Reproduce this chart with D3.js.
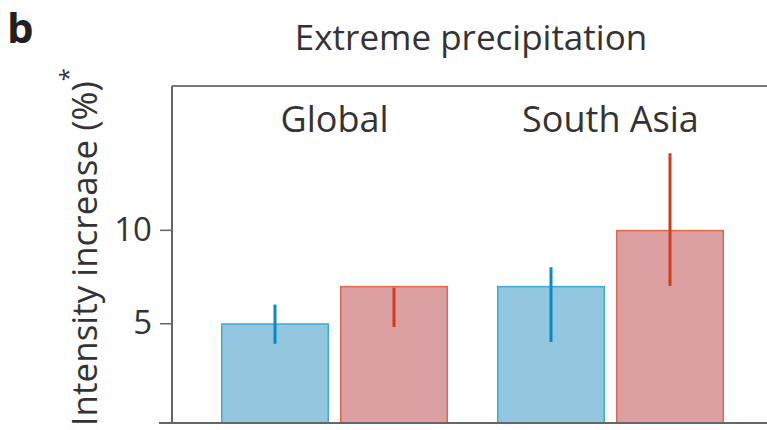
<!DOCTYPE html>
<html>
<head>
<meta charset="utf-8">
<script src="https://cdn.jsdelivr.net/npm/d3@7"></script>
<style>
  body { margin: 0; background: #fff; }
  svg { display: block; font-family: "Open Sans", sans-serif; }
</style>
</head>
<body>
<div class="chart"></div>
<script>
// Extreme precipitation, intensity increase per region

var w = 767, h = 430;

var regions = ['Global', 'South Asia'];
var series = ['present', 'future'];
var presentVals = [5, 7],
	presentLow = [3.9, 4],
	presentHigh = [6, 8];
var futureVals = [7, 10],
	futureLow = [4.8, 7],
	futureHigh = [6.9, 14.1];
var yTicks = [5, 10];

var fills = { present: '#92c7df', future: '#dda0a2' };
var strokes = { present: '#3aaad9', future: '#e0684f' };
var errCols = { present: '#0a88c6', future: '#cf3b1b' };

// flatten into rows the marks can bind to
var rows = [];
regions.forEach(function(r, i) {
	rows.push({ region: r, s: 'present', v: presentVals[i], lo: presentLow[i], hi: presentHigh[i] });
	rows.push({ region: r, s: 'future', v: futureVals[i], lo: futureLow[i], hi: futureHigh[i] });
});

// note: "top" is taken by window.top, so plot edges get their own names
var plotLeft = 172, plotTop = 86, plotBottom = 423;

var x0 = d3.scaleBand().domain(regions).range([221, 724]).paddingInner(0.1775).paddingOuter(0);
var x1 = d3.scaleBand().domain(series).range([0, x0.bandwidth()]).paddingInner(0.0924);
var y = d3.scaleLinear().domain([-0.34, 17.7]).range([plotBottom, plotTop]);

var svg = d3.select('.chart').append('svg')
	.attr('width', w)
	.attr('height', h);

// frame: top line
svg.append('line')
	.attr('x1', plotLeft).attr('x2', w)
	.attr('y1', plotTop).attr('y2', plotTop)
	.attr('stroke', '#777').attr('stroke-width', 2);

var bars = svg.append('g');
bars.selectAll('rect')
	.data(rows)
	.enter().append('rect')
		.attr('x', function(d) { return x0(d.region) + x1(d.s) + 0.75; })
		.attr('width', x1.bandwidth() - 1.5)
		.attr('y', function(d) { return y(d.v) + 0.75; })
		.attr('height', function(d) { return plotBottom - y(d.v) - 0.75; })
		.attr('fill', function(d) { return fills[d.s]; })
		.attr('stroke', function(d) { return strokes[d.s]; })
		.attr('stroke-width', 1.5);

bars.selectAll('line')
	.data(rows)
	.enter().append('line')
		.attr('x1', function(d) { return x0(d.region) + x1(d.s) + x1.bandwidth() / 2; })
		.attr('x2', function(d) { return x0(d.region) + x1(d.s) + x1.bandwidth() / 2; })
		.attr('y1', function(d) { return y(d.hi); })
		.attr('y2', function(d) { return y(d.lo); })
		.attr('stroke', function(d) { return errCols[d.s]; })
		.attr('stroke-width', 3);

// y axis
var yAxis = svg.append('g')
	.attr('transform', 'translate(' + plotLeft + ',0)')
	.call(d3.axisLeft(y).tickValues(yTicks).tickSize(12).tickPadding(8).tickSizeOuter(0));
yAxis.select('.domain').remove();
yAxis.selectAll('.tick line').attr('stroke', '#666').attr('stroke-width', 1.5);
yAxis.selectAll('.tick text')
	.attr('fill', '#333')
	.style('font-size', '33px')
	.style('font-family', '"Open Sans", sans-serif');

svg.append('line')
	.attr('x1', plotLeft).attr('x2', plotLeft)
	.attr('y1', plotTop).attr('y2', plotBottom)
	.attr('stroke', '#666').attr('stroke-width', 2);

svg.append('line')
	.attr('x1', 159).attr('x2', w)
	.attr('y1', plotBottom).attr('y2', plotBottom)
	.attr('stroke', '#666').attr('stroke-width', 2);

// region labels
svg.selectAll('.region')
	.data(regions)
	.enter().append('text')
		.attr('class', 'region')
		.attr('x', function(d) { return x0(d) + x0.bandwidth() / 2; })
		.attr('y', 132)
		.attr('text-anchor', 'middle')
		.attr('fill', '#333')
		.style('font-size', '36px')
		.text(function(d) { return d; });

svg.append('text')
	.attr('x', 471).attr('y', 50)
	.attr('text-anchor', 'middle')
	.attr('fill', '#333')
	.style('font-size', '35px')
	.text('Extreme precipitation');

svg.append('text')
	.attr('x', 7).attr('y', 43)
	.attr('fill', '#231f20')
	.style('font-size', '42px')
	.style('font-weight', 'bold')
	.text('b');

var yl = svg.append('text')
	.attr('transform', 'translate(97,68) rotate(-90)')
	.attr('text-anchor', 'end')
	.attr('fill', '#333')
	.style('font-size', '35px');
yl.append('tspan').text('Intensity increase (%)');
yl.append('tspan').attr('dy', -20).style('font-size', '24px').text('*');
</script>
</body>
</html>
